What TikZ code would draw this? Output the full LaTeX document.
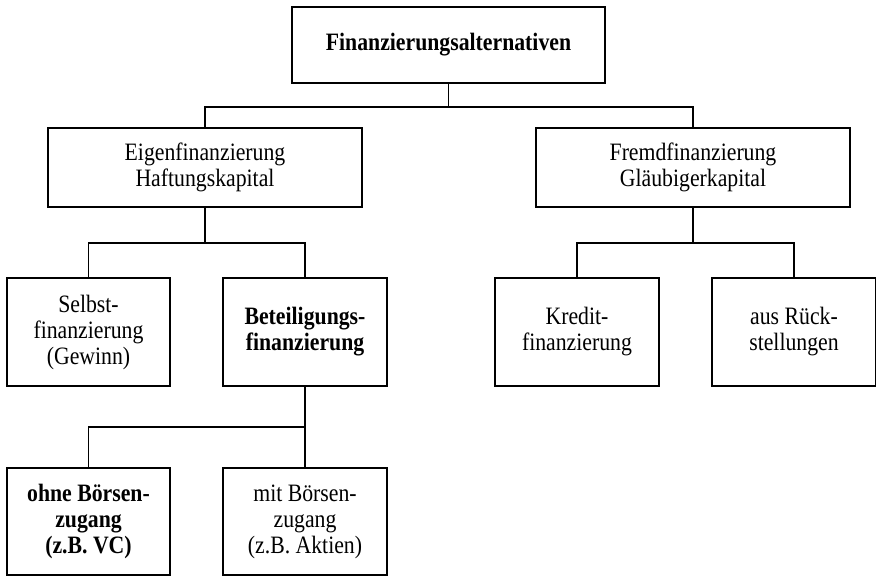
\documentclass[tikz,border=0pt]{standalone}
\usepackage{fontspec}
\setmainfont[FakeStretch=0.87]{Liberation Serif}

\begin{document}
\begin{tikzpicture}[x=1pt,y=-1pt,every node/.style={font=\fontsize{25}{26}\selectfont},
  box/.style={draw,line width=1.8pt,align=center,inner sep=0pt},
  link/.style={line width=1.5pt}]
\useasboundingbox (0,0) rectangle (876,576);
\node[box,minimum width=313pt,minimum height=76pt] (alt) at (448.5,45) {\textbf{Finanzierungsalternativen}};
\node[box,minimum width=314pt,minimum height=79pt] (eigen) at (205,167.5) {Eigenfinanzierung\\Haftungskapital};
\node[box,minimum width=314pt,minimum height=79pt] (fremd) at (693,167.5) {Fremdfinanzierung\\Gläubigerkapital};
\node[box,minimum width=163pt,minimum height=108pt] (selbst) at (88.5,332) {Selbst-\\finanzierung\\(Gewinn)};
\node[box,minimum width=164pt,minimum height=108pt] (beteil) at (305,332) {\textbf{Beteiligungs-}\\\textbf{finanzierung}};
\node[box,minimum width=164pt,minimum height=108pt] (kredit) at (577,332) {Kredit-\\finanzierung};
\node[box,minimum width=164pt,minimum height=108pt] (rueck) at (794,332) {aus Rück-\\stellungen};
\node[box,minimum width=163pt,minimum height=107pt] (ohne) at (88.5,521.5) {\textbf{ohne Börsen-}\\\textbf{zugang}\\\textbf{(z.B. VC)}};
\node[box,minimum width=164pt,minimum height=107pt] (mit) at (305,521.5) {mit Börsen-\\zugang\\(z.B. Aktien)};
% Verbindungen
\coordinate (j1) at (448.5,107);
\coordinate (j2) at (205,243);
\coordinate (j3) at (693,243);
\coordinate (j4) at (305,427);
\draw[link] (alt.south) -- (j1);
\draw[link] (eigen.north) |- (j1) -| (fremd.north);
\draw[link] (eigen.south) -- (j2);
\draw[link] (selbst.north) |- (j2) -| (beteil.north);
\draw[link] (fremd.south) -- (j3);
\draw[link] (kredit.north) |- (j3) -| (rueck.north);
\draw[link] (beteil.south) -- (j4) -- (mit.north);
\draw[link] (ohne.north) |- (j4);
\end{tikzpicture}
\end{document}
